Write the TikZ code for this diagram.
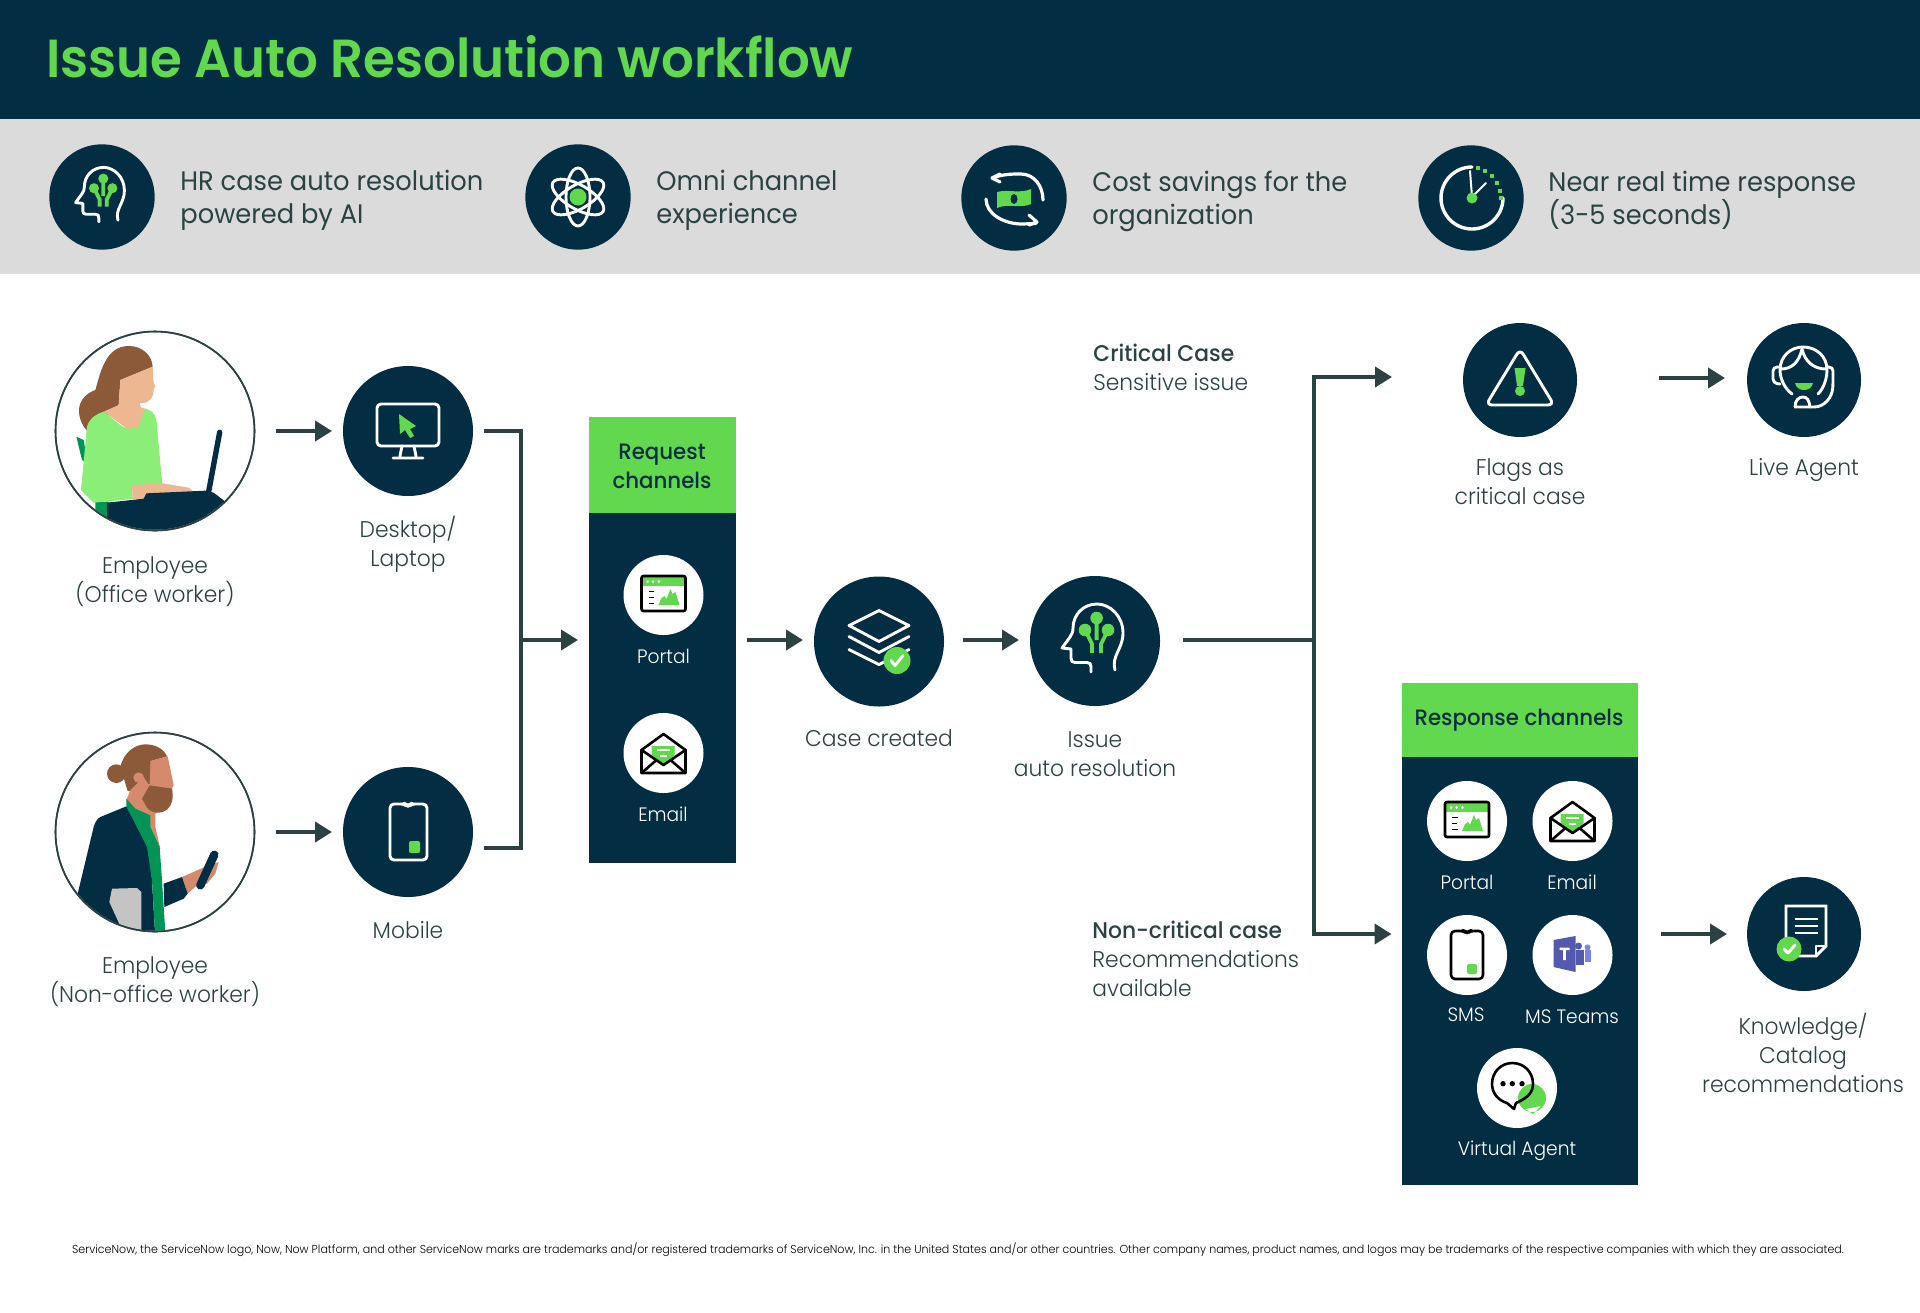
\documentclass[tikz,border=0pt]{standalone}
\usepackage{fontspec}
\setmainfont{Poppins}[UprightFont=* Light,BoldFont=* Medium,FakeStretch=0.96]
\newfontfamily\medfont{Poppins}[UprightFont=* Medium,FakeStretch=0.96]
\newfontfamily\titlefont{Poppins}[UprightFont=* SemiBold,FakeStretch=0.96]
\newfontfamily\bandfont{Poppins}[FakeStretch=0.96]
\usetikzlibrary{arrows.meta,calc}
\definecolor{navy}{HTML}{032D42}
\definecolor{leaf}{HTML}{62D84E}
\definecolor{band}{HTML}{DBDBDB}
\definecolor{ink}{HTML}{2C4242}
\definecolor{hairb}{HTML}{8C5A38}
\definecolor{skinA}{HTML}{EDB792}
\definecolor{skinB}{HTML}{D58A6E}
\definecolor{shirt}{HTML}{8BEE78}
\definecolor{deepg}{HTML}{009456}
\definecolor{greyf}{HTML}{C4C4C4}
\definecolor{tpurple}{HTML}{5558AF}
\definecolor{tlight}{HTML}{7B83EB}
\tikzset{
 x=0.5pt,y=-0.5pt,
 disc/.style={circle,fill=navy,inner sep=0pt,outer sep=0pt,draw=none},
 banddisc/.style={disc,minimum size=52.7pt},
 bigdisc/.style={disc,minimum size=65pt},
 meddisc/.style={disc,minimum size=57pt},
 chandisc/.style={circle,fill=white,inner sep=0pt,outer sep=0pt,minimum size=40pt},
 person/.style={circle,draw=ink,line width=.8pt,fill=white,inner sep=0pt,outer sep=0pt,minimum size=99.5pt},
 conn/.style={draw=ink,line width=2pt},
 flow/.style={conn,-{Triangle[length=8.5pt,width=10pt]}},
 lbl/.style={anchor=base,align=center,text=ink,inner sep=0pt,font=\fontsize{11.35}{14.3}\selectfont},
 bandtxt/.style={anchor=base west,align=left,text=ink,inner sep=0pt,font=\bandfont\fontsize{13.4}{16.3}\selectfont},
 sidetxt/.style={anchor=base west,align=left,text=ink,inner sep=0pt,font=\fontsize{11.35}{14.3}\selectfont},
 chantxt/.style={anchor=base,align=center,text=white,inner sep=0pt,font=\fontsize{9.7}{12}\selectfont},
 headtxt/.style={anchor=base,align=center,text=navy,inner sep=0pt,font=\medfont\fontsize{11.1}{14.4}\selectfont},
 wl/.style={draw=white,line width=1.45pt,line cap=round,line join=round},
 kl/.style={draw=black,line width=1.3pt,line cap=round,line join=round},
 pics/brainicon/.style={code={
  \draw[wl] (20,29) .. controls (16,15) and (28,8) .. (28,-8) .. controls (28,-25) and (15,-37) .. (2,-37) .. controls (-12,-37) and (-22,-26) .. (-22,-13) .. controls (-22,-9) and (-23,-7) .. (-25,-4) -- (-33,7) -- (-24,8) -- (-24,17) .. controls (-24,20) and (-23,21.5) .. (-20,21.5) -- (-8,21.5) .. controls (-5,21.5) and (-4,23) .. (-4,26) -- (-4,31);
  \draw[leaf,line width=1.9pt] (1.6,-23) -- (1.6,-1) (-10,-11) -- (-3,3) -- (-3,12) (13,-11) -- (6,3) -- (6,12);
  \fill[leaf] (1.6,-23) circle[radius=6.3] (-10,-11) circle[radius=6.3] (13,-11) circle[radius=6.3];
 }},
 pics/atomicon/.style={code={
  \foreach \a in {90,30,150}{\draw[wl,rotate=\a] (0,0) circle[x radius=29,y radius=12];}
  \fill[leaf] (0,0) circle[radius=8.5];
 }},
 pics/moneyicon/.style={code={
  \draw[wl,line width=1.6pt] (-14,-24) -- (-22,-20) -- (-14,-16);
  \draw[wl,line width=1.6pt] (-20,-20.5) .. controls (-10,-24) and (-2,-24) .. (7,-24) .. controls (20,-24) and (29,-12) .. (29,2);
  \draw[wl,line width=1.6pt] (15,17) -- (23,24) -- (15,27);
  \draw[wl,line width=1.6pt] (22,25.5) -- (8,26) .. controls (-10,26) and (-28,16) .. (-28,1);
  \fill[leaf] (-17,-6) .. controls (-6,-9) and (6,-4) .. (17,-9) -- (17,6) .. controls (6,11) and (-6,5) .. (-17,10) -- cycle;
  \fill[navy] (0,1) circle[x radius=3.5,y radius=5];
 }},
 pics/clockicon/.style={code={
  \draw[wl,line width=1.7pt] (1,-31) arc[start angle=-90,delta angle=-270,radius=31];
  \foreach \p in {(7,-30),(14,-27),(21,-22),(26,-15),(29,-7),(30,0)}{\fill[leaf] \p ++(-1.9,-1.9) rectangle ++(3.8,3.8);}
  \draw[wl,line width=1pt] (1,-1) -- (-1,-27);
  \draw[wl,line width=1pt] (1,-1) -- (15,-15);
  \fill[leaf] (1,0) circle[radius=5.5];
 }},
 pics/desktopicon/.style={code={
  \draw[wl] (-31,-27) [rounded corners=2pt] rectangle (31,15);
  \draw[wl] (-6,15) -- (-8,25) (6,15) -- (8,25) (-15,27) -- (15,27);
  \fill[leaf] (-9,-17) -- (8,-5) -- (2,-2) -- (6,5) -- (2,7) -- (-3,-1) -- (-8,3) -- cycle;
 }},
 pics/mobileicon/.style={code={
  \draw[wl,rounded corners=2pt] (-18,-28) -- (-3,-28) -- (-1,-26.5) -- (1,-26.5) -- (3,-28) -- (19,-28) -- (19,28) -- (-18,28) -- cycle;
  \fill[leaf,rounded corners=1pt] (1,9) rectangle (12,21);
 }},
 pics/layersicon/.style={code={
  \draw[wl] (0,-31) -- (30,-16) -- (0,0) -- (-30,-16) -- cycle;
  \draw[wl] (-30,-5) -- (0,11) -- (30,-5);
  \draw[wl] (-30,8) -- (0,23) -- (30,8);
  \fill[leaf] (18,19) circle[radius=13.5];
  \draw[wl] (12,19) -- (16,24) -- (24,14);
 }},
 pics/alerticon/.style={code={
  \draw[wl,rounded corners=3pt] (0,-31) -- (34,25) -- (-34,25) -- cycle;
  \fill[leaf] (-5.5,-12) -- (5.5,-12) -- (3,6) -- (-3,6) -- cycle;
  \fill[leaf] (0,11) circle[radius=5];
 }},
 pics/agenticon/.style={code={
  \draw[wl] (-12,14) .. controls (-20,8) and (-24,-2) .. (-24,-10) .. controls (-24,-24) and (-13,-33) .. (-1,-33) .. controls (12,-33) and (23,-24) .. (23,-10) .. controls (23,-2) and (20,8) .. (14,14);
  \draw[wl] (-23,-11) .. controls (-12,-11) and (-5,-18) .. (-2,-31) .. controls (1,-18) and (10,-11) .. (22,-11);
  \draw[wl,rounded corners=2pt] (-23,-13) -- (-31,-13) -- (-31,3) -- (-24,4);
  \draw[wl,rounded corners=2pt] (23,-13) -- (29,-13) -- (29,4) .. controls (28,18) and (20,27) .. (6,27) -- (-9,27);
  \draw[wl] (-9,27) .. controls (-9,20) and (-5,17) .. (-1,17) .. controls (3,17) and (5,20) .. (6,27);
  \fill[leaf] (-9,3) -- (9,3) .. controls (8,8) and (4,10) .. (0,10) .. controls (-4,10) and (-8,8) .. (-9,3) -- cycle;
 }},
 pics/docicon/.style={code={
  \draw[wl,line join=miter] (-18,10) -- (-18,-28) -- (22,-28) -- (22,12) -- (12,22) -- (-9,22);
  \draw[wl,line join=round] (22,12) -- (12,12) -- (12,22);
  \draw[wl,line cap=butt] (-9.5,-15) -- (13.5,-15) (-9.5,-8) -- (13.5,-8) (-9.5,-1) -- (13.5,-1);
  \fill[leaf] (-15,15) circle[radius=12.5];
  \draw[wl] (-20,15) -- (-16,19) -- (-9,11);
 }},
 pics/portalicon/.style={code={
  \fill[leaf] (-22,-19) rectangle (22,-9);
  \draw[kl,rounded corners=1pt] (-22,-19) rectangle (22,16);
  \fill[white] (-16,-13.5) circle[radius=1.5] (-10.5,-13.5) circle[radius=1.5] (-4.7,-13.5) circle[radius=1.5];
  \draw[kl,line width=.95pt,line cap=butt] (-15,-3.5) -- (-9.5,-3.5) (-15,2.5) -- (-10,2.5) (-15,8.5) -- (-9.5,8.5);
  \fill[leaf] (-5,10) -- (-2,3) -- (1,1) -- (3,4) -- (7,-6) -- (9,-1) -- (12,-3) -- (16,10) -- cycle;
 }},
 pics/mailicon/.style={code={
  \draw[kl] (-22,-3) -- (0,-19) -- (22,-3) -- (22,20) -- (-22,20) -- cycle;
  \fill[leaf] (-12,-7) -- (11,-7) -- (11,2.3) -- (0,12) -- (-12,2.3) -- cycle;
  \draw[white,line width=.8pt] (-7,-3) -- (6,-3) (-4,3) -- (3,3);
  \draw[kl] (-22,-3) -- (0,12) -- (22,-3);
  \draw[kl] (-22,20) -- (-7,7) (22,20) -- (7,7);
 }},
 pics/phoneicon/.style={code={
  \draw[kl,rounded corners=2pt] (-16,-24) -- (-3,-24) -- (-1,-22.8) -- (1,-22.8) -- (3,-24) -- (16,-24) -- (16,24) -- (-16,24) -- cycle;
  \fill[leaf,rounded corners=1pt] (0,9) rectangle (10,19);
 }},
 pics/teamsicon/.style={code={
  \fill[tlight] (12,-5) rectangle (18,7);
  \fill[tlight] (15,-7.6) circle[radius=3];
  \fill[tpurple] (3,-5) rectangle (11,10);
  \fill[tpurple] (6,-9) circle[radius=3.5];
  \fill[tpurple] (-19,-15) -- (3,-19) -- (3,17) -- (-19,12) -- cycle;
  \fill[white] (-13,-7.5) rectangle (-3,-5) (-9.3,-7.5) rectangle (-6.7,5);
 }},
 pics/chaticon/.style={code={
  \fill[leaf] (15,10) circle[radius=14] (8,21) -- (16,26) -- (24,18) -- cycle;
  \draw[kl] (-10,15) .. controls (-20,12) and (-25,4) .. (-25,-4) .. controls (-25,-16) and (-16,-25) .. (-4.7,-25) .. controls (7,-25) and (16,-16) .. (16,-4) .. controls (16,6) and (8,11) .. (-1,15) -- (-3,21) -- cycle;
  \fill[black] (-14,-4.3) circle[radius=2.7] (-4.7,-4.3) circle[radius=2.7] (5,-4.3) circle[radius=2.7];
 }},
 pics/womanfig/.style={code={
 \begin{scope}[scale=1/3,shift={(-344,-333)}]
  \clip (344,333) circle[radius=296];
  \fill[deepg] (108,350) -- (130,360) -- (142,430) -- (125,420) -- cycle;
  \fill[deepg] (165,545) -- (205,545) -- (215,640) -- (165,600) -- cycle;
  \fill[hairb] (265,78) .. controls (305,78) and (335,105) .. (337,140) -- (240,180) -- (235,255) -- (150,340) .. controls (120,320) and (105,270) .. (125,240) .. controls (135,225) and (150,215) .. (165,210) .. controls (180,160) and (195,78) .. (265,78) -- cycle;
  \fill[skinA] (337,140) -- (340,190) -- (345,198) -- (340,208) .. controls (340,235) and (325,250) .. (298,250) -- (302,262) -- (318,268) -- (300,320) -- (265,330) -- (190,275) -- (235,255) -- (240,180) -- cycle;
  \fill[shirt] (190,275) -- (240,315) .. controls (260,332) and (295,330) .. (300,305) -- (315,265) -- (335,275) .. controls (345,285) and (350,300) .. (350,320) -- (367,505) -- (275,497) -- (277,537) -- (160,548) -- (122,510) -- (140,320) .. controls (145,300) and (160,285) .. (190,275) -- cycle;
  \fill[skinA] (275,495) -- (367,490) -- (445,503) -- (460,515) -- (310,537) -- (277,537) -- cycle;
  \fill[navy] (200,548) -- (310,536) -- (318,520) -- (495,512) -- (520,518) -- (555,545) -- (555,650) -- (200,650) -- cycle;
  \draw[navy,line width=2.7pt,line cap=round] (538,337) -- (505,515);
 \end{scope}
 }},
 pics/manfig/.style={code={
 \begin{scope}[scale=1/3,shift={(-344,-335)}]
  \clip (344,335) circle[radius=296];
  \fill[hairb] (228,160) circle[radius=28];
  \fill[skinB] (285,190) -- (330,122) -- (382,108) -- (393,160) -- (400,195) -- (395,205) -- (395,240) -- (345,280) -- (345,320) -- (360,385) -- (330,340) -- (258,240) -- cycle;
  \fill[hairb] (240,140) .. controls (250,95) and (285,72) .. (315,72) .. controls (345,72) and (370,85) .. (380,108) -- (330,122) -- (328,190) -- (285,212) -- (262,212) -- cycle;
  \fill[skinB] (295,172) circle[radius=16];
  \fill[skinB] (270,210) -- (310,170) -- (330,200) -- (300,250) -- (258,240) -- cycle;
  \fill[hairb] (328,195) -- (395,205) .. controls (400,235) and (395,255) .. (380,268) .. controls (360,282) and (335,280) .. (320,262) -- (305,235) -- cycle;
  \fill[navy] (258,258) -- (180,290) .. controls (170,295) and (165,305) .. (160,320) -- (112,520) -- (150,650) -- (345,650) -- (330,400) -- (320,370) -- cycle;
  \fill[deepg] (258,235) -- (285,265) -- (330,285) -- (330,320) -- (358,380) -- (365,480) -- (376,650) -- (345,650) -- (335,480) -- (320,380) -- (258,258) -- cycle;
  \fill[greyf] (215,505) -- (290,503) -- (303,515) -- (303,650) -- (255,650) -- (207,545) -- cycle;
  \fill[skinB] (425,470) -- (500,437) -- (535,425) -- (525,460) -- (500,490) -- (470,495) -- (442,520) -- cycle;
  \fill[navy] (370,490) -- (425,470) -- (442,520) -- (430,535) -- (372,560) -- cycle;
  \draw[navy,line width=4.2pt,line cap=round] (522,403) -- (480,495);
 \end{scope}
 }},
}
\begin{document}
\begin{tikzpicture}
\useasboundingbox (0,0) rectangle (1920,1312);
\fill[white] (0,0) rectangle (1920,1312);
\fill[navy] (0,0) rectangle (1920,119);
\fill[band] (0,119) rectangle (1920,274);
\node[anchor=base west,inner sep=0pt,text=leaf,font=\titlefont\fontsize{26.8}{32}\selectfont] (title) at (46,77) {Issue Auto Resolution workflow};

% benefit band
\node[banddisc] (b1) at (102,197) {};
\pic at (b1.center) [scale=.8] {brainicon};
\node[bandtxt] (b1t) at (180,223) {HR case auto resolution\\powered by AI};
\node[banddisc] (b2) at (578,197) {};
\pic at (b2.center) {atomicon};
\node[bandtxt] (b2t) at (656,223) {Omni channel\\experience};
\node[banddisc] (b3) at (1014,198) {};
\pic at (b3.center) {moneyicon};
\node[bandtxt] (b3t) at (1092,224) {Cost savings for the\\organization};
\node[banddisc] (b4) at (1471,198) {};
\pic at (b4.center) {clockicon};
\node[bandtxt] (b4t) at (1548,224) {Near real time response\\(3-5 seconds)};

% left side
\node[person] (emp1) at (155,431) {};
\pic at (emp1.center) {womanfig};
\draw[ink,line width=.8pt] (emp1.center) circle[radius=99.5];
\node[lbl] (emp1t) at (155,602) {Employee\\(Office worker)};
\node[person] (emp2) at (155,832) {};
\pic at (emp2.center) {manfig};
\draw[ink,line width=.8pt] (emp2.center) circle[radius=99.5];
\node[lbl] (emp2t) at (155,1002) {Employee\\(Non-office worker)};
\node[bigdisc] (desk) at (408,431) {};
\pic at (desk.center) {desktopicon};
\node[lbl] (deskt) at (408,566) {Desktop/\\Laptop};
\node[bigdisc] (mob) at (408,832) {};
\pic at (mob.center) {mobileicon};
\node[lbl] (mobt) at (408,938) {Mobile};

% request panel
\node[fill=navy,inner sep=0pt,outer sep=0pt,minimum width=73.5pt,minimum height=223pt] (reqpanel) at (662.5,640) {};
\fill[leaf] (reqpanel.north west) rectangle ([yshift=-48pt]reqpanel.north east);
\node[headtxt] (reqt) at (662,488) {Request\\channels};
\node[chandisc] (rportal) at (663.5,595) {};
\pic at (rportal.center) {portalicon};
\node[chantxt] (rportalt) at (663.5,663) {Portal};
\node[chandisc] (rmail) at (663.5,753) {};
\pic at (rmail.center) {mailicon};
\node[chantxt] (rmailt) at (663,821) {Email};

% middle
\node[bigdisc] (case) at (879,641.5) {};
\pic at (case.center) {layersicon};
\node[lbl] (caset) at (879,746) {Case created};
\node[bigdisc] (issue) at (1095,641) {};
\pic at (issue.center) {brainicon};
\node[lbl] (issuet) at (1095,776) {Issue\\auto resolution};

% critical branch
\node[sidetxt] (crit) at (1093,390) {\textbf{Critical Case}\\Sensitive issue};
\node[meddisc] (flag) at (1520,380) {};
\pic at (flag.center) {alerticon};
\node[lbl] (flagt) at (1520,504) {Flags as\\critical case};
\node[meddisc] (live) at (1804,380) {};
\pic at (live.center) {agenticon};
\node[lbl] (livet) at (1804,475) {Live Agent};

% non critical branch
\node[sidetxt] (noncrit) at (1092,996) {\textbf{Non-critical case}\\Recommendations\\available};
\node[fill=navy,inner sep=0pt,outer sep=0pt,minimum width=118.25pt,minimum height=251pt] (respanel) at (1519.75,934) {};
\fill[leaf] (respanel.north west) rectangle ([yshift=-37pt]respanel.north east);
\node[headtxt] (rest) at (1519,725) {Response channels};
\node[chandisc] (sportal) at (1467,821) {};
\pic at (sportal.center) {portalicon};
\node[chantxt] (sportalt) at (1467,889) {Portal};
\node[chandisc] (smail) at (1572.5,821) {};
\pic at (smail.center) {mailicon};
\node[chantxt] (smailt) at (1572,889) {Email};
\node[chandisc] (ssms) at (1467,955) {};
\pic at (ssms.center) {phoneicon};
\node[chantxt] (ssmst) at (1466,1021) {SMS};
\node[chandisc] (steams) at (1572.5,955) {};
\pic at (steams.center) {teamsicon};
\node[chantxt] (steamst) at (1572,1023) {MS Teams};
\node[chandisc] (sva) at (1517,1088) {};
\pic at (sva.center) {chaticon};
\node[chantxt] (svat) at (1517,1155) {Virtual Agent};
\node[meddisc] (kb) at (1804,934) {};
\pic at (kb.center) {docicon};
\node[lbl] (kbt) at (1803,1092) {Knowledge/\\Catalog\\recommendations};

% connectors
\coordinate (busL) at (521,640);
\coordinate (busR) at (1314,640);
\coordinate (critin) at (1392,377);
\draw[flow,shorten <=10.75pt,shorten >=5.5pt] (emp1) -- (desk);
\draw[flow,shorten <=10.75pt,shorten >=5.5pt] (emp2) -- (mob);
\draw[conn] ([xshift=5.5pt]desk.east) -| (busL) |- ([shift={(5.5pt,-8pt)}]mob.east);
\draw[flow,shorten >=5.5pt] (busL) -- (reqpanel.west);
\draw[flow,shorten <=5.5pt,shorten >=5.5pt] (reqpanel.east) -- (reqpanel.east -| case.west);
\draw[flow,shorten <=9.5pt,shorten >=5.5pt] (reqpanel.east -| case.east) -- (reqpanel.east -| issue.west);
\draw[conn,shorten <=11.5pt] (busR -| issue.east) -- (busR);
\draw[flow] (busR) |- (critin);
\draw[flow,shorten >=5pt] (busR) |- (respanel.west);
\draw[flow,shorten <=41pt,shorten >=11pt] ([yshift=1pt]flag.east) -- ([yshift=1pt]live.west);
\draw[flow,shorten <=11.5pt,shorten >=10pt] (respanel.east) -- (kb.west);

% footer
\node[anchor=base,inner sep=0pt,text=black,font=\fontsize{5.76}{6.5}\selectfont] (foot) at (958,1253) {ServiceNow, the ServiceNow logo, Now, Now Platform, and other ServiceNow marks are trademarks and/or registered trademarks of ServiceNow, Inc. in the United States and/or other countries. Other company names, product names, and logos may be trademarks of the respective companies with which they are associated.};
\end{tikzpicture}
\end{document}
